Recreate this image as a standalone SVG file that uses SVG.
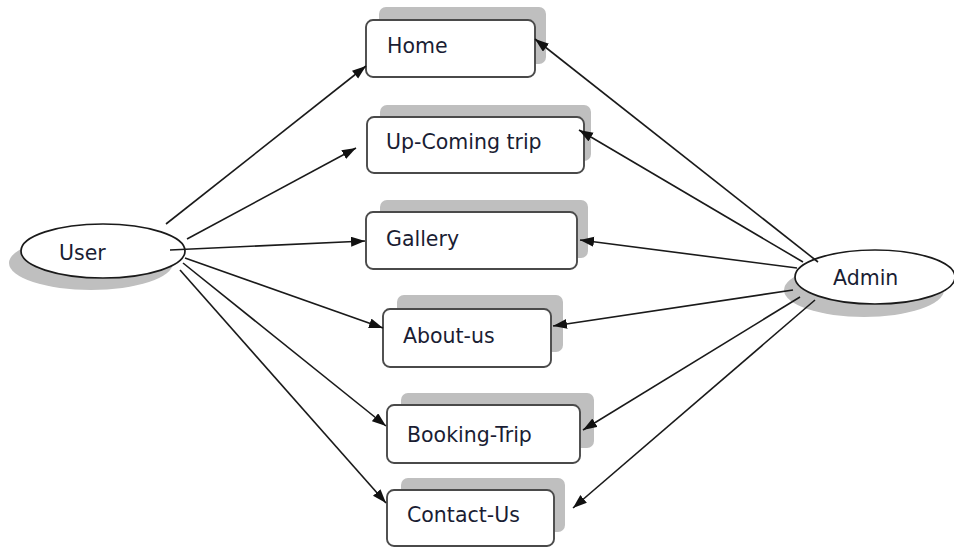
<svg xmlns="http://www.w3.org/2000/svg" width="954" height="547" viewBox="0 0 954 547">
  <defs>
    <marker id="arrow" markerUnits="userSpaceOnUse" markerWidth="15" markerHeight="11" refX="14" refY="5" orient="auto">
      <path d="M0,0 L14,5 L0,10 z" fill="#111"/>
    </marker>
  </defs>
  <style>
    .shadow { fill: #bfbfbf; }
    .box { fill: #ffffff; stroke: #4a4a4a; stroke-width: 1.9; }
    .actor { fill: #ffffff; stroke: #1a1a1a; stroke-width: 1.7; }
    .label { font-family: "DejaVu Sans", Verdana, sans-serif; font-size: 20.5px; fill: #1a1d33; }
    .conn line { stroke: #1a1a1a; stroke-width: 1.6; marker-end: url(#arrow); }
  </style>
  <rect width="954" height="547" fill="#ffffff"/>

  <!-- actors -->
  <g id="user">
    <ellipse class="shadow" cx="91" cy="263" rx="82" ry="27"/>
    <ellipse class="actor" cx="103" cy="251" rx="82" ry="27"/>
    <text class="label" x="59" y="260">User</text>
  </g>
  <g id="admin">
    <ellipse class="shadow" cx="864" cy="290" rx="80" ry="27"/>
    <ellipse class="actor" cx="875" cy="277" rx="80" ry="27"/>
    <text class="label" x="833" y="285">Admin</text>
  </g>

  <!-- pages -->
  <g id="home">
    <rect class="shadow" x="379" y="7" width="167" height="57" rx="7"/>
    <rect class="box" x="366" y="20" width="169" height="57" rx="7"/>
    <text class="label" x="387" y="53">Home</text>
  </g>
  <g id="upcoming">
    <rect class="shadow" x="380" y="105" width="211" height="56" rx="7"/>
    <rect class="box" x="367" y="117" width="217" height="56" rx="7"/>
    <text class="label" x="386" y="149">Up-Coming trip</text>
  </g>
  <g id="gallery">
    <rect class="shadow" x="380" y="200" width="208" height="58" rx="7"/>
    <rect class="box" x="366" y="212" width="211" height="57" rx="7"/>
    <text class="label" x="386" y="246">Gallery</text>
  </g>
  <g id="aboutus">
    <rect class="shadow" x="397" y="295" width="166" height="57" rx="7"/>
    <rect class="box" x="383" y="309" width="168" height="58" rx="7"/>
    <text class="label" x="403" y="343">About-us</text>
  </g>
  <g id="bookingtrip">
    <rect class="shadow" x="401" y="393" width="193" height="55" rx="7"/>
    <rect class="box" x="387" y="405" width="193" height="58" rx="7"/>
    <text class="label" x="407" y="442">Booking-Trip</text>
  </g>
  <g id="contactus">
    <rect class="shadow" x="401" y="478" width="164" height="54" rx="7"/>
    <rect class="box" x="387" y="490" width="167" height="56" rx="7"/>
    <text class="label" x="407" y="522">Contact-Us</text>
  </g>

  <!-- connectors -->
  <g id="connectors" class="conn">
    <line x1="166" y1="224" x2="366" y2="66"/>
    <line x1="187" y1="239" x2="356" y2="148"/>
    <line x1="170" y1="250" x2="365" y2="241"/>
    <line x1="185" y1="258" x2="383" y2="328"/>
    <line x1="183" y1="263" x2="386" y2="426"/>
    <line x1="180" y1="270" x2="386" y2="503"/>

    <line x1="818" y1="262" x2="535" y2="39"/>
    <line x1="803" y1="262" x2="579" y2="130"/>
    <line x1="797" y1="268" x2="580" y2="240"/>
    <line x1="793" y1="290" x2="553" y2="326"/>
    <line x1="800" y1="297" x2="583" y2="430"/>
    <line x1="815" y1="300" x2="573" y2="508"/>
  </g>
</svg>
